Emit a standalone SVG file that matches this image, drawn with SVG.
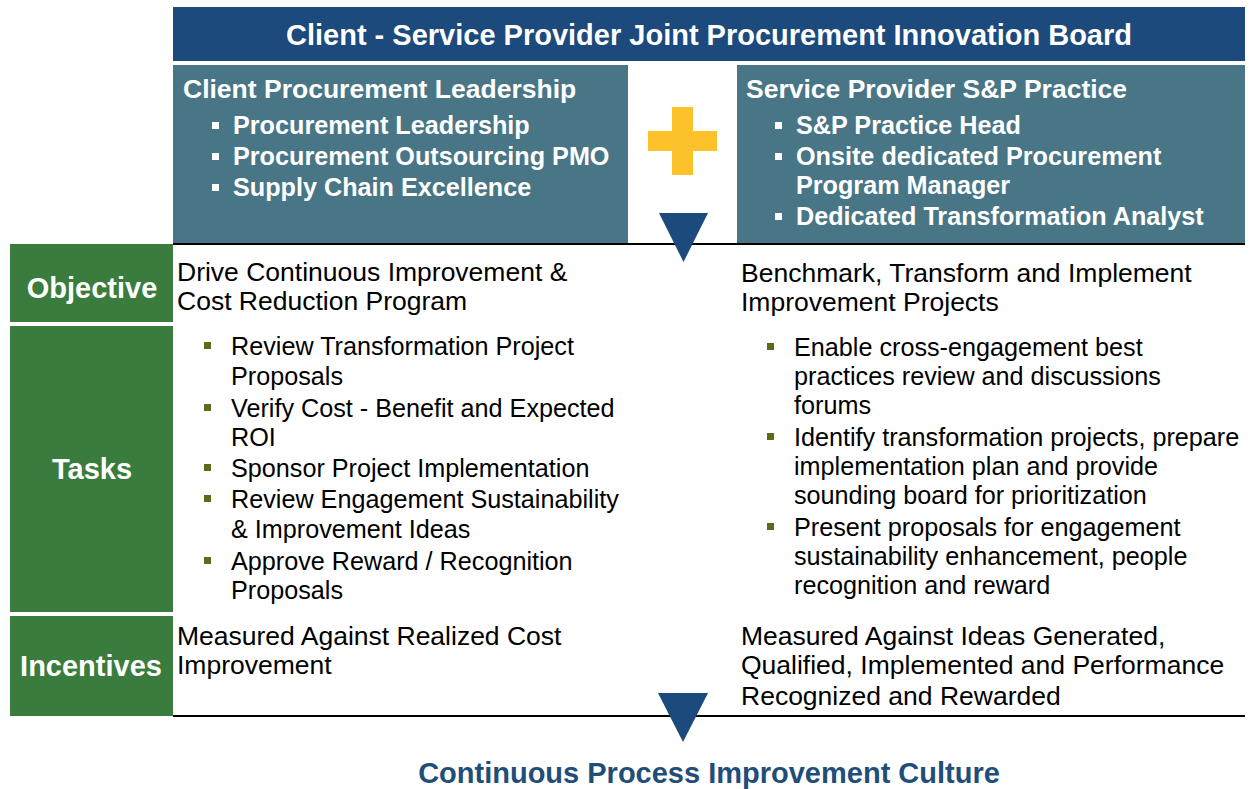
<svg xmlns="http://www.w3.org/2000/svg" width="1251" height="789" viewBox="0 0 1251 789">
<style>
text{font-family:"Liberation Sans",Arial,sans-serif}
.hd{fill:#fff;font-weight:bold;font-size:29px}
.tt{fill:#fff;font-weight:bold;font-size:26.5px}
.tb{fill:#fff;font-weight:bold;font-size:25.2px}
.lb{fill:#fff;font-weight:bold;font-size:29px;text-anchor:middle}
.ob{fill:#000;font-size:26.5px}
.tk{fill:#000;font-size:25.2px}
.teal{fill:#487686}
.green{fill:#3A7C3D}
.navy{fill:#1C4A7C}
.wb{fill:#fff}
.ob2{fill:#5A6B1C}
.rule{stroke:#000;stroke-width:2}
</style>
<rect width="1251" height="789" fill="#fff"/>
<g id="board">
<rect class="navy" x="173" y="7" width="1072" height="54"/>
<text class="hd" x="709" y="45" text-anchor="middle">Client - Service Provider Joint Procurement Innovation Board</text>
</g>
<g id="client">
<rect class="teal" x="173" y="65" width="455" height="179"/>
<text class="tt" x="183" y="98">Client Procurement Leadership</text>
<rect class="wb" x="212" y="122" width="7" height="7"/>
<rect class="wb" x="212" y="153" width="7" height="7"/>
<rect class="wb" x="212" y="184" width="7" height="7"/>
<text class="tb" x="233" y="134">Procurement Leadership</text>
<text class="tb" x="233" y="165">Procurement Outsourcing PMO</text>
<text class="tb" x="233" y="196">Supply Chain Excellence</text>
</g>
<g id="provider">
<rect class="teal" x="737" y="65" width="508" height="179"/>
<text class="tt" x="746" y="98">Service Provider S&amp;P Practice</text>
<rect class="wb" x="775" y="122" width="7" height="7"/>
<rect class="wb" x="775" y="153" width="7" height="7"/>
<rect class="wb" x="775" y="213" width="7" height="7"/>
<text class="tb" x="796" y="134">S&amp;P Practice Head</text>
<text class="tb" x="796" y="165">Onsite dedicated Procurement</text>
<text class="tb" x="796" y="194">Program Manager</text>
<text class="tb" x="796" y="225">Dedicated Transformation Analyst</text>
</g>
<g id="plus">
<rect x="672" y="107" width="21" height="68" fill="#FDC12A"/>
<rect x="648" y="131" width="69" height="20" fill="#FDC12A"/>
</g>
<g id="connectors">
<line class="rule" x1="173" y1="244" x2="1245" y2="244"/>
<line class="rule" x1="173" y1="716" x2="1245" y2="716"/>
<polygon class="navy" points="659,213 708,213 683.5,262"/>
<polygon class="navy" points="658,693 708,693 683,742"/>
</g>
<g id="objective">
<rect class="green" x="10" y="244" width="163" height="78"/>
<text class="lb" x="92" y="298">Objective</text>
<text class="ob" x="177" y="281">Drive Continuous Improvement &amp;</text>
<text class="ob" x="177" y="310">Cost Reduction Program</text>
<text class="ob" x="741" y="282">Benchmark, Transform and Implement</text>
<text class="ob" x="741" y="311">Improvement Projects</text>
</g>
<g id="tasks">
<rect class="green" x="10" y="326" width="163" height="286"/>
<text class="lb" x="92" y="479">Tasks</text>
<rect class="ob2" x="204" y="342" width="7" height="7"/>
<rect class="ob2" x="204" y="404" width="7" height="7"/>
<rect class="ob2" x="204" y="464" width="7" height="7"/>
<rect class="ob2" x="204" y="495" width="7" height="7"/>
<rect class="ob2" x="204" y="557" width="7" height="7"/>
<text class="tk" x="231" y="355">Review Transformation Project</text>
<text class="tk" x="231" y="385">Proposals</text>
<text class="tk" x="231" y="417">Verify Cost - Benefit and Expected</text>
<text class="tk" x="231" y="446">ROI</text>
<text class="tk" x="231" y="477">Sponsor Project Implementation</text>
<text class="tk" x="231" y="508">Review Engagement Sustainability</text>
<text class="tk" x="231" y="538">&amp; Improvement Ideas</text>
<text class="tk" x="231" y="570">Approve Reward / Recognition</text>
<text class="tk" x="231" y="599">Proposals</text>
<rect class="ob2" x="767" y="343" width="7" height="7"/>
<rect class="ob2" x="767" y="433" width="7" height="7"/>
<rect class="ob2" x="767" y="523" width="7" height="7"/>
<text class="tk" x="794" y="356">Enable cross-engagement best</text>
<text class="tk" x="794" y="385">practices review and discussions</text>
<text class="tk" x="794" y="414">forums</text>
<text class="tk" x="794" y="446">Identify transformation projects, prepare</text>
<text class="tk" x="794" y="475">implementation plan and provide</text>
<text class="tk" x="794" y="504">sounding board for prioritization</text>
<text class="tk" x="794" y="536">Present proposals for engagement</text>
<text class="tk" x="794" y="565">sustainability enhancement, people</text>
<text class="tk" x="794" y="594">recognition and reward</text>
</g>
<g id="incentives">
<rect class="green" x="10" y="616" width="163" height="100"/>
<text class="lb" x="91" y="676">Incentives</text>
<text class="ob" x="177" y="645">Measured Against Realized Cost</text>
<text class="ob" x="177" y="674">Improvement</text>
<text class="ob" x="741" y="645">Measured Against Ideas Generated,</text>
<text class="ob" x="741" y="674">Qualified, Implemented and Performance</text>
<text class="ob" x="741" y="705">Recognized and Rewarded</text>
</g>
<g id="culture">
<text x="709" y="783" text-anchor="middle" style="fill:#1F4E79;font-weight:bold;font-size:29px">Continuous Process Improvement Culture</text>
</g>
</svg>
